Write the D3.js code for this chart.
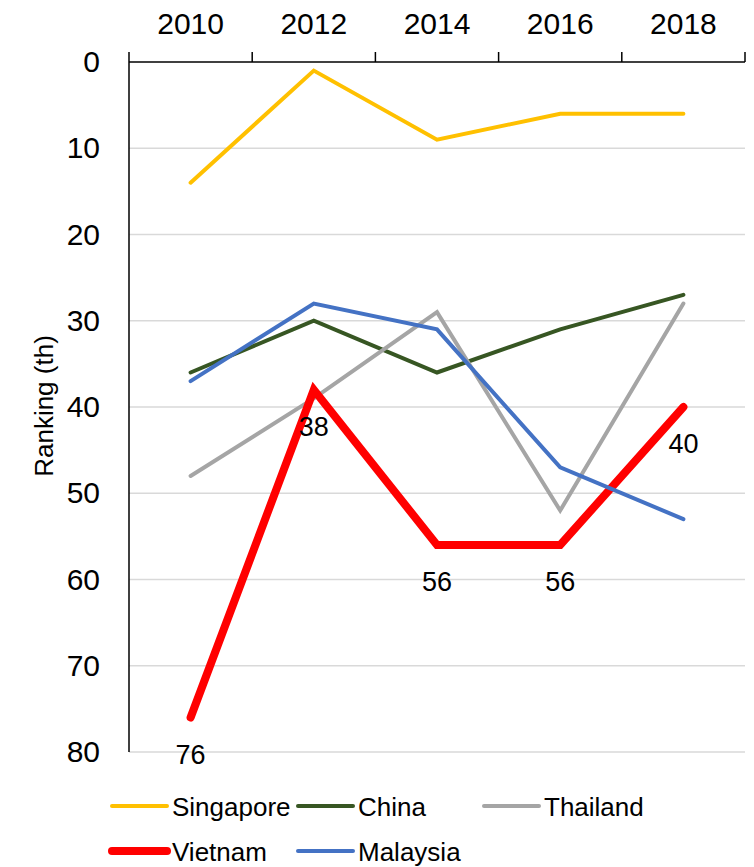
<!DOCTYPE html>
<html>
<head>
<meta charset="utf-8">
<script src="https://cdn.jsdelivr.net/npm/d3@7"></script>
<style>
html,body{margin:0;padding:0;background:#fff;}
text{font-family:"Liberation Sans",Arial,sans-serif;fill:#000;}
</style>
</head>
<body>
<svg id="chart" width="754" height="867"></svg>
<script>
const years = ["2010","2012","2014","2016","2018"];
const seriesNames = ["Singapore","China","Thailand","Vietnam","Malaysia"];
const singapore = [14, 1, 9, 6, 6];
const china = [36, 30, 36, 31, 27];
const thailand = [48, 39, 29, 52, 28];
const vietnam = [76, 38, 56, 56, 40];
const malaysia = [37, 28, 31, 47, 53];
const yTicks = [0,10,20,30,40,50,60,70,80];
const colors = ["#FFC000","#375623","#A5A5A5","#FF0000","#4472C4"];
const widths = [4,4,4,8,4];
const values = [singapore, china, thailand, vietnam, malaysia];

const svg = d3.select("#chart");
const pL = 129, pR = 745, pT = 62, pB = 752;

const x = d3.scaleBand().domain(years).range([pL, pR]);
const y = d3.scaleLinear().domain([0, 80]).range([pT, pB]);

// gridlines
svg.append("g").selectAll("line").data(yTicks.filter(d => d > 0)).join("line")
  .attr("x1", pL).attr("x2", pR)
  .attr("y1", d => y(d)).attr("y2", d => y(d))
  .attr("stroke", "#D9D9D9").attr("stroke-width", 1.5);

// top axis
const xAxis = svg.append("g").attr("transform", `translate(0,${pT})`)
  .call(d3.axisTop(x).tickSize(0).tickPadding(28));
xAxis.select(".domain").remove();
xAxis.selectAll("text").attr("font-size", 30).attr("font-family", "Liberation Sans, Arial, sans-serif").attr("fill", "#000");
svg.append("line").attr("x1", pL).attr("x2", pR).attr("y1", pT).attr("y2", pT)
  .attr("stroke", "#000").attr("stroke-width", 1.5);
const bounds = [pL].concat(years.map(d => x(d) + x.bandwidth()));
svg.append("g").selectAll("line").data(bounds).join("line")
  .attr("x1", d => d).attr("x2", d => d).attr("y1", pT).attr("y2", pT - 10)
  .attr("stroke", "#000").attr("stroke-width", 1.5);

// left axis
const yAxis = svg.append("g").attr("transform", `translate(${pL},0)`)
  .call(d3.axisLeft(y).tickValues(yTicks).tickSize(0).tickPadding(29));
yAxis.select(".domain").remove();
yAxis.selectAll("text").attr("font-size", 30).attr("font-family", "Liberation Sans, Arial, sans-serif").attr("fill", "#000");
svg.append("line").attr("x1", pL).attr("x2", pL).attr("y1", pT).attr("y2", pB)
  .attr("stroke", "#000").attr("stroke-width", 1.5);

// axis title
svg.append("text").attr("transform", "translate(53,406) rotate(-90)")
  .attr("text-anchor", "middle").attr("font-size", 26).text("Ranking (th)");

// lines
const line = d3.line().x((d, i) => x(years[i]) + x.bandwidth() / 2).y(d => y(d));
values.forEach((vals, k) => {
  svg.append("path").datum(vals).attr("d", line)
    .attr("fill", "none").attr("stroke", colors[k]).attr("stroke-width", widths[k])
    .attr("stroke-linejoin", "miter").attr("stroke-linecap", "round");
});

// Vietnam labels
svg.append("g").selectAll("text").data(vietnam).join("text")
  .attr("x", (d, i) => x(years[i]) + x.bandwidth() / 2)
  .attr("y", d => y(d) + 46)
  .attr("text-anchor", "middle").attr("font-size", 27)
  .text(d => d);

// legend
const legendPos = [[112,806],[298,806],[484,806],[112,851],[298,851]];
seriesNames.forEach((name, k) => {
  const [lx, ly] = legendPos[k];
  svg.append("line").attr("x1", lx).attr("x2", lx + 55).attr("y1", ly).attr("y2", ly)
    .attr("stroke", colors[k]).attr("stroke-width", widths[k]).attr("stroke-linecap", "round");
  svg.append("text").attr("x", lx + 60).attr("y", ly + 9.5).attr("font-size", 26).text(name);
});
</script>
</body>
</html>
